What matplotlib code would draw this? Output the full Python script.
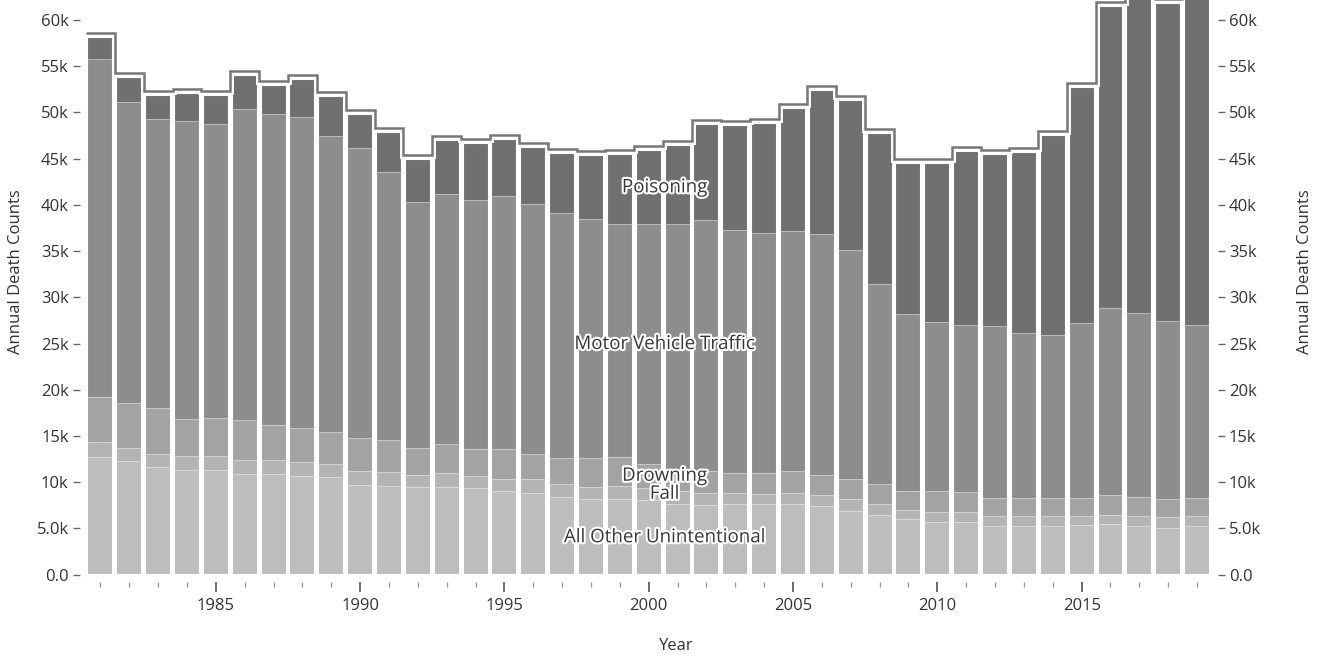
import matplotlib.pyplot as plt
import matplotlib.patheffects as pe
import matplotlib.transforms as mtransforms
import numpy as np

plt.rcParams['font.family'] = ['Open Sans', 'DejaVu Sans']

# annual unintentional death counts by cause
years = list(range(1981, 2020))
all_other = [12700, 12300, 11600, 11300, 11300, 10900, 10900, 10700, 10600, 9700,
             9600, 9500, 9500, 9400, 9000, 8800, 8400, 8200, 8200, 8100,
             7700, 7500, 7600, 7600, 7600, 7400, 6900, 6500, 6000, 5700,
             5700, 5300, 5250, 5250, 5400, 5450, 5300, 5100, 5300]
fall = [1600, 1400, 1500, 1500, 1500, 1500, 1500, 1500, 1400, 1500,
        1500, 1300, 1500, 1300, 1300, 1500, 1400, 1300, 1400, 1300,
        1400, 1300, 1200, 1100, 1200, 1200, 1300, 1100, 1000, 1100,
        1100, 1050, 1100, 1100, 950, 1050, 1050, 1100, 1050]
drowning = [4900, 4900, 4900, 4000, 4200, 4300, 3800, 3700, 3400, 3600,
            3500, 2900, 3100, 2900, 3300, 2800, 2800, 3100, 3100, 2600,
            2300, 2400, 2200, 2300, 2400, 2200, 2200, 2200, 2050, 2250,
            2100, 1950, 1950, 1950, 1950, 2100, 2100, 2000, 1950]
motor_vehicle = [36600, 32500, 31300, 32300, 31800, 33700, 33600, 33600, 32100, 31400,
                 29000, 26600, 27100, 26900, 27400, 27000, 26500, 25900, 25200, 25900,
                 26500, 27200, 26300, 26000, 26000, 26100, 24700, 21600, 19150, 18250,
                 18100, 18600, 17800, 17600, 18900, 20300, 19850, 19200, 18700]
poisoning = [2400, 2700, 2600, 3000, 3100, 3700, 3200, 4100, 4300, 3600,
             4300, 4700, 5800, 6200, 6100, 6200, 6500, 6900, 7600, 8000,
             8600, 10400, 11300, 11900, 13300, 15500, 16200, 16400, 16300, 17200,
             18800, 18600, 19600, 21700, 25500, 32600, 36500, 34400, 36900]

causes = ['All Other Unintentional', 'Fall', 'Drowning', 'Motor Vehicle Traffic', 'Poisoning']
series = [all_other, fall, drowning, motor_vehicle, poisoning]
colors = ['#bdbdbd', '#b4b4b4', '#a3a3a3', '#8d8d8d', '#707070']
label_year = 2000

W, H = 1322, 658
fig = plt.figure(figsize=(W / 100, H / 100), dpi=100)
ax = fig.add_axes([86 / W, 1 - 574.7 / H, (1211.5 - 86) / W, 574.7 / H])

x = np.array(years)
bottom = np.zeros(len(years))
mids = []
for name, vals, col in zip(causes, series, colors):
    vals = np.array(vals, dtype=float)
    ax.bar(x, vals, bottom=bottom, width=0.9, color=col,
           edgecolor=(1, 1, 1, 0.3), linewidth=0.6, zorder=2)
    i = years.index(label_year)
    mids.append(bottom[i] + vals[i] / 2)
    bottom = bottom + vals
totals = bottom

# white outline round each bar
ax.bar(x, totals, width=0.9, fill=False, edgecolor='white', linewidth=1.5, zorder=3)

# stepped outline over the totals
edges = np.arange(years[0] - 0.5, years[-1] + 1.0)
up = mtransforms.offset_copy(ax.transData, fig=fig, x=0, y=4, units='dots')
ax.stairs(totals, edges, baseline=None, transform=up, color='white', linewidth=5, zorder=4)
ax.stairs(totals, edges, baseline=None, transform=up, color='#767676', linewidth=1.8, zorder=5)

# layer labels
for name, m in zip(causes, mids):
    ax.text(label_year + 0.55, m, name, ha='center', va='center', fontsize=13.5,
            color='#383838', zorder=6,
            path_effects=[pe.withStroke(linewidth=3, foreground='white')])

ax.set_xlim(years[0] - 0.5, years[-1] + 0.5)
ax.set_ylim(0, 62160)

yt = np.arange(0, 60001, 5000)
ylabels = ['0.0', '5.0k'] + ['%dk' % (v // 1000) for v in yt[2:]]

for side in ['top', 'left', 'right', 'bottom']:
    ax.spines[side].set_visible(False)
ax.spines['bottom'].set_position(('outward', 5.3))
ax.spines['left'].set_position(('outward', 4.5))

ax.set_xticks([1985, 1990, 1995, 2000, 2005, 2010, 2015])
ax.set_xticks(years, minor=True)
ax.tick_params(axis='x', which='major', length=7.2, width=1.1, color='#444444',
               labelsize=12, labelcolor='#333333', pad=4)
ax.tick_params(axis='x', which='minor', length=3.6, width=1.0, color='#999999')
ax.set_yticks(yt)
ax.set_yticklabels(ylabels)
ax.tick_params(axis='y', length=5, width=1.0, color='#666666', labelsize=12,
               labelcolor='#333333', pad=3)

ax2 = ax.twinx()
ax2.set_ylim(ax.get_ylim())
for side in ['top', 'left', 'right', 'bottom']:
    ax2.spines[side].set_visible(False)
ax2.spines['right'].set_position(('outward', 4.5))
ax2.set_yticks(yt)
ax2.set_yticklabels(ylabels)
ax2.tick_params(axis='y', length=5, width=1.0, color='#666666', labelsize=12,
                labelcolor='#333333', pad=3)

fig.text(676 / W, 1 - 646 / H, 'Year', ha='center', va='center', fontsize=12, color='#333333')
fig.text(16 / W, 1 - 272 / H, 'Annual Death Counts', ha='center', va='center',
         rotation=90, fontsize=12, color='#333333')
fig.text(1305 / W, 1 - 272 / H, 'Annual Death Counts', ha='center', va='center',
         rotation=90, fontsize=12, color='#333333')

fig.savefig('out.png', dpi=100)
